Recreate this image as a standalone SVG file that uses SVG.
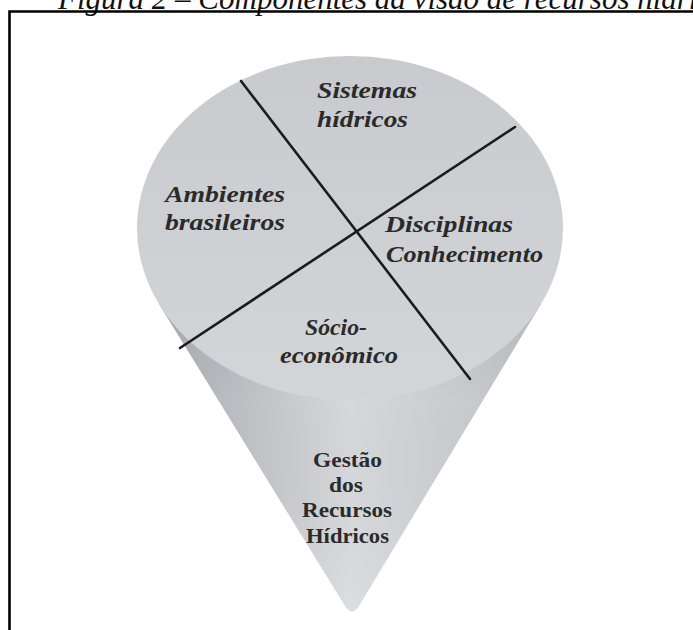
<svg xmlns="http://www.w3.org/2000/svg" width="693" height="630" viewBox="0 0 693 630">
<defs>
<linearGradient id="coneH" x1="0" y1="0" x2="1" y2="0">
<stop offset="0" stop-color="#a9acb0"/>
<stop offset="0.5" stop-color="#d6d8db"/>
<stop offset="1" stop-color="#bfc2c5"/>
</linearGradient>
<linearGradient id="coneV" x1="0" y1="0" x2="0" y2="1">
<stop offset="0" stop-color="#8e9296" stop-opacity="0.35"/>
<stop offset="0.45" stop-color="#8e9296" stop-opacity="0"/>
<stop offset="1" stop-color="#ffffff" stop-opacity="0.15"/>
</linearGradient>
<linearGradient id="diskG" x1="0" y1="0" x2="0" y2="1">
<stop offset="0" stop-color="#c8cacd"/>
<stop offset="1" stop-color="#d3d6d9"/>
</linearGradient>
</defs>
<style>
.cap{font-family:"Liberation Serif",serif;font-style:italic;font-size:31px;fill:#111}
.it{font-family:"Liberation Serif",serif;font-style:italic;font-weight:bold;font-size:23px;fill:#2a2a2a}
.bd{font-family:"Liberation Serif",serif;font-weight:bold;font-size:22px;fill:#2b2b2b}
.div{stroke:#1c1c1c;stroke-width:2.6;stroke-linecap:round;fill:none}
</style>
<rect width="693" height="630" fill="#ffffff"/>
<text class="cap" x="58" y="9">Figura 2 – Componentes da visão de recursos hídricos</text>
<path d="M9.5 632 V11.5 H700" fill="none" stroke="#000" stroke-width="2.6"/>
<g id="cone">
<path d="M159 304 L345 606 Q352 617 359 606 L541 304 L350 228 Z" fill="url(#coneH)"/>
<path d="M159 304 L345 606 Q352 617 359 606 L541 304 L350 228 Z" fill="url(#coneV)"/>
</g>
<g id="disk">
<ellipse cx="350" cy="228" rx="213" ry="172" fill="url(#diskG)"/>
</g>
<g id="connectors">
<line class="div" x1="241" y1="81" x2="470" y2="379"/>
<line class="div" x1="515" y1="127" x2="180" y2="348"/>
</g>
<g id="sistemas">
<text class="it" x="317" y="98" textLength="100" lengthAdjust="spacingAndGlyphs">Sistemas</text>
<text class="it" x="317" y="127" textLength="91" lengthAdjust="spacingAndGlyphs">hídricos</text>
</g>
<g id="ambientes">
<text class="it" x="165" y="202" textLength="120" lengthAdjust="spacingAndGlyphs">Ambientes</text>
<text class="it" x="165" y="230" textLength="120" lengthAdjust="spacingAndGlyphs">brasileiros</text>
</g>
<g id="disciplinas">
<text class="it" x="385" y="232" textLength="128" lengthAdjust="spacingAndGlyphs">Disciplinas</text>
<text class="it" x="386" y="262" textLength="157" lengthAdjust="spacingAndGlyphs">Conhecimento</text>
</g>
<g id="socio">
<text class="it" x="305" y="335" textLength="62" lengthAdjust="spacingAndGlyphs">Sócio-</text>
<text class="it" x="280" y="363" textLength="118" lengthAdjust="spacingAndGlyphs">econômico</text>
</g>
<g id="gestao">
<text class="bd" x="313" y="467" textLength="69" lengthAdjust="spacingAndGlyphs">Gestão</text>
<text class="bd" x="329" y="492" textLength="34" lengthAdjust="spacingAndGlyphs">dos</text>
<text class="bd" x="302" y="517" textLength="90" lengthAdjust="spacingAndGlyphs">Recursos</text>
<text class="bd" x="306" y="543" textLength="83" lengthAdjust="spacingAndGlyphs">Hídricos</text>
</g>
</svg>
